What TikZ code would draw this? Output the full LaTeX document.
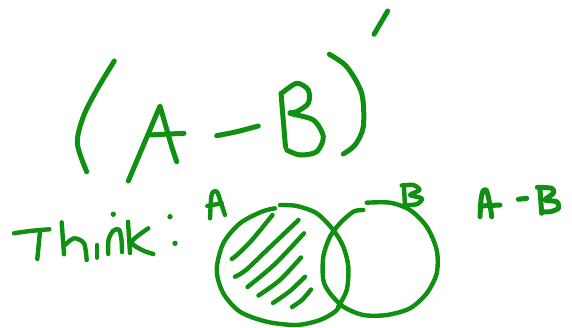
\documentclass[tikz,border=0pt]{standalone}
\definecolor{inkgreen}{RGB}{16,144,16}
\tikzset{ink/.style={draw=inkgreen,line width=4.4pt,line cap=round,line join=round},
  bigink/.style={ink,line width=5pt},
  dotink/.style={fill=inkgreen}}
\begin{document}
\begin{tikzpicture}[x=1pt,y=-1pt]
\useasboundingbox (0,0) rectangle (572,327);
% (A - B)'
\draw[bigink] plot[smooth] coordinates {(114.3,61) (96.7,90) (83.3,116.7) (77.3,143.3) (86.7,171.7)};
\draw[bigink] (128.3,181) -- (160,106) -- (171.7,146.7) -- (176.7,161.7);
\draw[bigink] (148.3,135) -- (184,133.3);
\draw[bigink] plot[smooth] coordinates {(216.7,135.7) (236.7,131.7) (258.3,126)};
\draw[bigink] (281,93.3) -- (285.5,147);
\draw[bigink] plot[smooth] coordinates {(281.7,93.3) (296.7,83.3) (308.3,90) (308.3,103.3) (296.7,111.7) (290,113.3) (313.3,120) (323.3,136.7) (316.7,151.7) (300,155) (286.7,150)};
\draw[bigink] plot[smooth] coordinates {(329.3,54.3) (346.7,66.7) (361.7,93.3) (363.3,126.7) (355,145) (343.3,154)};
\draw[bigink] (387.7,11) -- (374,34.3);
% Think:
\draw[ink] plot[smooth] coordinates {(14,233.3) (30,231) (49.3,229.3)};
\draw[ink] (40,231.7) -- (37.3,259);
\draw[ink] (61.7,222.3) -- (64,254.3);
\draw[ink] plot[smooth] coordinates {(65,245) (74,238.3) (84,243.3) (86.7,260)};
\draw[ink] (96.7,245) -- (96.7,257.7);
\fill[dotink] (113.3,214.3) circle (2.7);
\draw[ink] plot[smooth] coordinates {(108.3,254) (108.5,240) (113,231) (119,229.5) (121.5,240) (122,252)};
\draw[ink] (128,221.7) -- (130,253);
\draw[ink] plot[smooth] coordinates {(148.3,228.3) (131.7,241.7) (142,250) (153.3,254)};
\fill[dotink] (170,216.7) circle (2.7);
\fill[dotink] (175,243.3) circle (2.7);
% label A
\draw[ink] plot[smooth] coordinates {(210,218.3) (211,200) (212.5,192.5) (217,191.7) (221,203) (225,215)};
\draw[ink] (207.3,206) -- (221.7,203.3);
% circle A
\draw[ink] plot[smooth] coordinates {(275,208.3) (261.7,211.7) (240,223.3) (223.3,243.3) (216.7,270) (223.3,293.3) (240,311.7) (266.7,321.7) (296.7,325) (320,320) (335,311.7) (340,305)};
\draw[ink] plot[smooth] coordinates {(338,307) (346.7,290) (348.3,266.7) (343.3,246.7) (333.3,230) (316.7,213.3) (296.7,206) (280,205)};
% circle B
\draw[ink] plot[smooth] coordinates {(363.3,210) (353.3,211.7) (340,223.3) (330,236.7) (323.3,256.7) (323.3,280) (330,293.3) (343.3,306.7) (363.3,315) (386.7,315) (410,308.3) (426.7,293.3) (436.7,273.3) (436.7,250) (426.7,226.7) (410,210) (390,202.7) (366.7,202.7)};
% label B
\draw[ink] (404,186.7) -- (405,206.7);
\draw[ink] plot[smooth] coordinates {(401.7,185.5) (413.3,185) (419.5,190) (410,195) (421.7,198.3) (417.5,204) (403.3,205.5)};
% hatching
\draw[ink] plot[smooth] coordinates {(272.5,215) (252,240) (238,254) (231.7,259)};
\draw[ink] plot[smooth] coordinates {(298.5,220) (268,249) (246,270) (235,276.7)};
\draw[ink] plot[smooth] coordinates {(304,233.3) (275,264) (247.5,287)};
\draw[ink] plot[smooth] coordinates {(301,257.5) (280,280) (258.5,295.5)};
\draw[ink] plot[smooth] coordinates {(305,276.7) (290,291) (273,303)};
\draw[ink] plot[smooth] coordinates {(311,289.5) (302,300) (292,307)};
% A - B
\draw[bigink] plot[smooth] coordinates {(480,216.7) (481,200) (483,191) (486.5,190.5) (490,205) (491.7,216.7)};
\draw[bigink] (480,206) -- (500,205);
\draw[bigink] (518.3,199.3) -- (526.7,198.3);
\draw[bigink] (540,190) -- (541.7,213.3);
\draw[bigink] plot[smooth] coordinates {(537.3,187.3) (551.7,188.3) (553.3,193.3) (545,200) (556.7,201.7) (558.3,208.3) (550,211.7) (541.7,211.7)};
\end{tikzpicture}
\end{document}
